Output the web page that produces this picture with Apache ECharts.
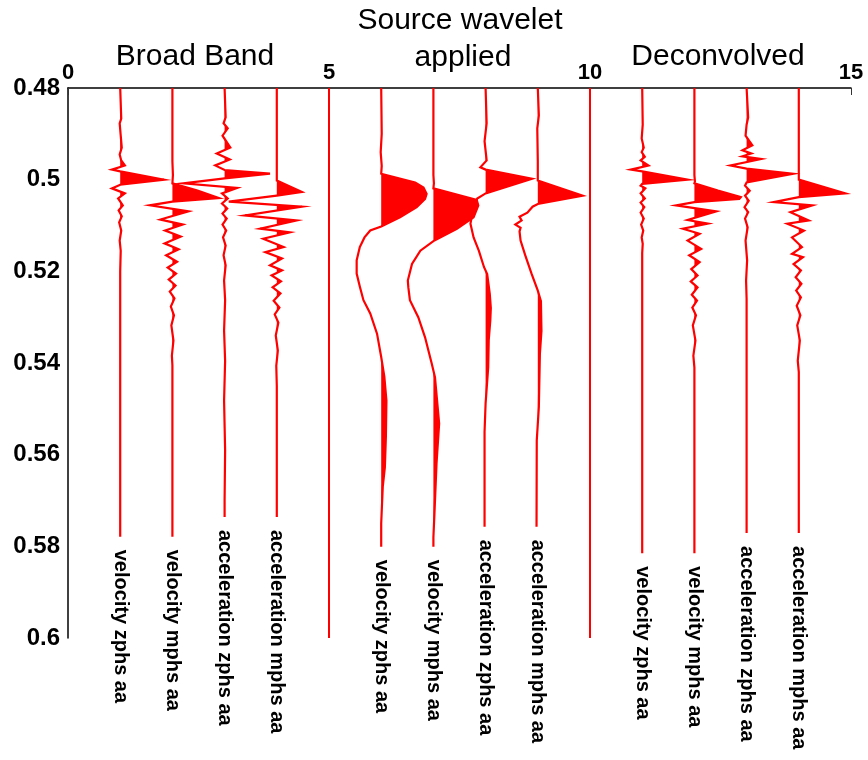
<!DOCTYPE html>
<html><head><meta charset="utf-8">
<script src="https://cdn.jsdelivr.net/npm/echarts@6/dist/echarts.min.js"></script>
<style>html,body{margin:0;padding:0;background:#fff}#c{width:868px;height:760px}</style>
</head><body><div id="c"></div>
<script>
// ---- data ----
const traceOffsets = [1, 2, 3, 4, 6, 7, 8, 9, 11, 12, 13, 14];
const traceNames = [
  'velocity zphs aa', 'velocity mphs aa', 'acceleration zphs aa', 'acceleration mphs aa',
  'velocity zphs aa', 'velocity mphs aa', 'acceleration zphs aa', 'acceleration mphs aa',
  'velocity zphs aa', 'velocity mphs aa', 'acceleration zphs aa', 'acceleration mphs aa'
];
const labelTimes = [0.5779, 0.5779, 0.5736, 0.5736, 0.5801, 0.5801, 0.5757, 0.5757, 0.5815, 0.5815, 0.5771, 0.5771];
const separators = [5, 10];
const sectionTitles = ['Broad Band', 'Source wavelet', 'applied', 'Deconvolved'];

// each trace: [time, amplitude]
const bbVelZphs = [[0.48,0],[0.4867,0.02],[0.4877,-0.01],[0.4904,0.01],[0.4930,0.03],[0.4945,-0.01],[0.4958,0.02],[0.4969,0.09],[0.4978,-0.16],[0.4982,0],[0.5000,0.84],[0.5011,0],[0.5019,-0.16],[0.5030,0.09],[0.5041,-0.04],[0.5056,0.05],[0.5067,-0.03],[0.5080,0.03],[0.5093,-0.02],[0.5111,0.02],[0.5133,-0.01],[0.5155,0.01],[0.5200,0],[0.6,0]];
const bbVelMphs = [[0.48,0],[0.4960,0],[0.4990,0.01],[0.5008,0],[0.5024,0.48],[0.5040,0.89],[0.5048,0],[0.5056,-0.43],[0.5069,0.31],[0.5087,-0.23],[0.5098,0.20],[0.5111,-0.14],[0.5124,0.16],[0.5139,-0.15],[0.5152,0.12],[0.5165,-0.12],[0.5179,0.09],[0.5192,-0.09],[0.5205,0.07],[0.5218,-0.07],[0.5231,0.06],[0.5244,-0.05],[0.5259,0.04],[0.5277,-0.03],[0.5296,0.03],[0.5318,-0.02],[0.5351,0.02],[0.5384,-0.01],[0.5405,0],[0.6,0]];
const bbAccZphs = [[0.48,0],[0.4864,0.02],[0.4877,-0.02],[0.4888,0.06],[0.4904,-0.04],[0.4930,0.11],[0.4943,-0.15],[0.4956,0.10],[0.4969,-0.18],[0.4979,0],[0.4987,0.87],[0.4997,0],[0.5008,-0.79],[0.5018,0.24],[0.5030,-0.05],[0.5041,0.06],[0.5052,-0.05],[0.5063,0.05],[0.5074,-0.04],[0.5085,0.04],[0.5098,-0.04],[0.5111,0.03],[0.5126,-0.03],[0.5144,0.02],[0.5165,-0.02],[0.5187,0.02],[0.5220,-0.01],[0.5263,0.01],[0.5329,-0.01],[0.5395,0.01],[0.5482,-0.01],[0.5590,0.01],[0.57,0],[0.6,0]];
const bbAccMphs = [[0.48,0],[0.4990,0],[0.5002,0],[0.5027,0.48],[0.5035,0],[0.5048,-0.92],[0.5059,0.48],[0.5078,-0.61],[0.5089,0.38],[0.5107,-0.32],[0.5115,0.25],[0.5129,-0.26],[0.5147,0.13],[0.5158,-0.22],[0.5172,0.10],[0.5187,-0.13],[0.5198,0.10],[0.5209,-0.10],[0.5222,0.08],[0.5235,-0.08],[0.5248,0.07],[0.5264,-0.06],[0.5279,0.05],[0.5294,-0.04],[0.5312,0.03],[0.5340,-0.02],[0.5373,0.02],[0.5406,-0.01],[0.5450,0],[0.6,0]];
const swVelZphs = [[0.48,0],[0.4900,0.01],[0.4940,-0.01],[0.4970,0.01],[0.4987,0],[0.5006,0.65],[0.5017,0.81],[0.5031,0.87],[0.5042,0.84],[0.5060,0.68],[0.5082,0.36],[0.5102,0],[0.5111,-0.21],[0.5126,-0.32],[0.5147,-0.41],[0.5176,-0.47],[0.5205,-0.47],[0.5233,-0.41],[0.5263,-0.34],[0.5292,-0.21],[0.5336,-0.08],[0.5387,0],[0.5430,0.06],[0.5482,0.10],[0.5560,0.09],[0.5628,0.07],[0.5670,0.03],[0.5750,0],[0.6,0]];
const swVelMphs = [[0.48,0],[0.4990,0],[0.5008,0.01],[0.5019,0],[0.5044,0.83],[0.5056,0.86],[0.5082,0.77],[0.5107,0.45],[0.5134,0],[0.5155,-0.25],[0.5184,-0.41],[0.5220,-0.49],[0.5235,-0.48],[0.5263,-0.45],[0.5300,-0.29],[0.5344,-0.16],[0.5402,-0.03],[0.5431,0.03],[0.5532,0.11],[0.5619,0.06],[0.5729,0.02],[0.5780,0],[0.6,0]];
const swAccZphs = [[0.48,0],[0.4877,0.02],[0.4916,-0.02],[0.4958,0.02],[0.4973,-0.10],[0.4978,0],[0.4998,0.89],[0.5030,0],[0.5041,-0.16],[0.5071,-0.25],[0.5096,-0.29],[0.5126,-0.23],[0.5155,-0.13],[0.5191,-0.03],[0.5206,0.03],[0.5249,0.08],[0.5280,0.10],[0.5307,0.09],[0.5350,0.06],[0.5409,0.05],[0.5488,0],[0.5550,-0.02],[0.6,-0.02]];
const swAccMphs = [[0.48,0],[0.4860,0.02],[0.4888,-0.01],[0.4960,0],[0.5002,0],[0.5035,0.86],[0.5053,0],[0.5059,-0.10],[0.5072,-0.20],[0.5081,-0.35],[0.5089,-0.31],[0.5098,-0.43],[0.5105,-0.33],[0.5113,-0.35],[0.5133,-0.33],[0.5165,-0.24],[0.5205,-0.12],[0.5242,0],[0.5265,0.06],[0.5330,0.07],[0.5380,0.04],[0.5496,0.02],[0.5569,-0.02],[0.6,-0.03]];
const dcVelZphs = [[0.48,0],[0.4880,0.01],[0.4910,-0.01],[0.4930,0.03],[0.4940,-0.01],[0.4950,0.05],[0.4958,-0.03],[0.4969,0.12],[0.4978,-0.22],[0.4982,0],[0.5000,0.87],[0.5009,0],[0.5013,-0.03],[0.5019,0.06],[0.5030,-0.03],[0.5041,0.05],[0.5050,-0.03],[0.5060,0.04],[0.5072,-0.03],[0.5085,0.03],[0.5098,-0.02],[0.5111,0.02],[0.5126,-0.01],[0.5140,0.01],[0.5160,0],[0.6,0]];
const dcVelMphs = [[0.48,0],[0.4990,0],[0.5004,0.01],[0.5008,0],[0.5024,0.45],[0.5038,0.89],[0.5042,0.86],[0.5049,0],[0.5056,-0.35],[0.5069,0.42],[0.5088,-0.13],[0.5096,0.26],[0.5107,-0.22],[0.5118,0.10],[0.5133,-0.13],[0.5151,0.13],[0.5165,-0.10],[0.5180,0.10],[0.5195,-0.06],[0.5209,0.06],[0.5222,-0.07],[0.5235,0.06],[0.5251,-0.05],[0.5264,0.05],[0.5279,-0.04],[0.5296,0.03],[0.5318,-0.03],[0.5351,0.02],[0.5384,-0.02],[0.5410,0],[0.6,0]];
const dcAccZphs = [[0.48,0],[0.4864,0.03],[0.4880,0],[0.4904,-0.02],[0.4925,0.11],[0.4936,-0.08],[0.4943,0.09],[0.4949,-0.08],[0.4955,0.28],[0.4969,-0.31],[0.4976,0],[0.4987,0.89],[0.5006,0],[0.5013,-0.03],[0.5024,0.06],[0.5035,-0.03],[0.5046,0.04],[0.5060,-0.04],[0.5071,0.03],[0.5085,-0.03],[0.5104,0.02],[0.5133,-0.02],[0.5176,0.01],[0.5220,-0.01],[0.5260,0],[0.6,0]];
const dcAccMphs = [[0.48,0],[0.4990,0],[0.5000,0],[0.5030,0.89],[0.5038,0],[0.5049,-0.48],[0.5056,0.26],[0.5071,-0.16],[0.5089,0.19],[0.5096,-0.22],[0.5111,0.10],[0.5126,-0.13],[0.5147,0.06],[0.5162,-0.13],[0.5169,0.08],[0.5184,-0.10],[0.5198,0.04],[0.5213,-0.06],[0.5227,0.05],[0.5242,-0.05],[0.5257,0.04],[0.5275,-0.04],[0.5296,0.03],[0.5318,-0.03],[0.5351,0.02],[0.5395,-0.02],[0.5420,0],[0.6,0]];

const traces = [bbVelZphs, bbVelMphs, bbAccZphs, bbAccMphs, swVelZphs, swVelMphs, swAccZphs, swAccMphs, dcVelZphs, dcVelMphs, dcAccZphs, dcAccMphs];

// ---- chart ----
const RED = '#ff0000';
const FONT = 'Arial, "Liberation Sans", sans-serif';
const chart = echarts.init(document.getElementById('c'), null, {renderer: 'canvas'});

function traceSeries(trace, offset) {
  return {
    type: 'custom',
    coordinateSystem: 'cartesian2d',
    silent: true,
    z: 3,
    clip: false,
    encode: {x: 0, y: 1},
    data: [[offset, trace[0][0]]],
    renderItem: function (params, api) {
      const line = trace.map(d => api.coord([offset + d[1], d[0]]));
      const poly = [api.coord([offset, trace[0][0]])];
      for (let i = 0; i < trace.length; i++) {
        const t = trace[i][0], a = trace[i][1];
        if (i > 0) {
          const t0 = trace[i - 1][0], a0 = trace[i - 1][1];
          if ((a0 > 0 && a < 0) || (a0 < 0 && a > 0)) {
            const tc = t0 + (t - t0) * (0 - a0) / (a - a0);
            poly.push(api.coord([offset, tc]));
          }
        }
        poly.push(api.coord([offset + Math.max(a, 0), t]));
      }
      poly.push(api.coord([offset, trace[trace.length - 1][0]]));
      return {
        type: 'group',
        children: [
          {type: 'polygon', shape: {points: poly}, style: {fill: RED, stroke: null}},
          {type: 'polyline', shape: {points: line}, style: {stroke: RED, lineWidth: 2.2, fill: null}}
        ]
      };
    }
  };
}

const series = traces.map((tr, i) => traceSeries(tr, traceOffsets[i]));

separators.forEach(x => {
  series.push({
    type: 'line', silent: true, z: 3, symbol: 'none',
    data: [[x, 0.48], [x, 0.6]],
    lineStyle: {color: RED, width: 2}
  });
});

// trace name labels (rotated, on white boxes)
series.push({
  type: 'custom', coordinateSystem: 'cartesian2d', silent: true, z: 10, clip: false,
  encode: {x: 0, y: 1},
  data: traceOffsets.map((x, i) => [x, labelTimes[i], i]),
  renderItem: function (params, api) {
    const p = api.coord([api.value(0), api.value(1)]);
    const i = api.value(2);
    return {
      type: 'text', x: p[0], y: p[1], rotation: -Math.PI / 2,
      style: {
        text: traceNames[i], fill: '#000', fontSize: 20, fontWeight: 'bold', fontFamily: FONT,
        align: 'left', verticalAlign: 'middle',
        backgroundColor: '#fff', padding: [9, 4, 9, 13]
      }
    };
  }
});

const titleStyle = {fontSize: 30, fontFamily: FONT, fill: '#000', align: 'center', verticalAlign: 'middle'};
chart.setOption({
  animation: false,
  backgroundColor: '#fff',
  grid: {left: 68, top: 88, right: 17, bottom: 122, containLabel: false},
  xAxis: {
    type: 'value', position: 'top', min: 0, max: 15, interval: 5,
    axisLine: {show: true, onZero: false, lineStyle: {color: '#000', width: 1.5}},
    axisTick: {show: true, inside: true, length: 7, lineStyle: {color: '#333'}},
    splitLine: {show: false},
    axisLabel: {color: '#000', fontSize: 22, fontWeight: 'bold', fontFamily: FONT, margin: 4}
  },
  yAxis: {
    type: 'value', inverse: true, min: 0.48, max: 0.6, interval: 0.02,
    axisLine: {show: true, onZero: false, lineStyle: {color: '#000', width: 1.5}},
    axisTick: {show: false},
    splitLine: {show: false},
    axisLabel: {color: '#000', fontSize: 24, fontWeight: 'bold', fontFamily: FONT, margin: 8}
  },
  graphic: [
    {type: 'text', x: 195, y: 57, style: Object.assign({text: sectionTitles[0]}, titleStyle)},
    {type: 'text', x: 460, y: 21, style: Object.assign({text: sectionTitles[1]}, titleStyle)},
    {type: 'text', x: 463, y: 58, style: Object.assign({text: sectionTitles[2]}, titleStyle)},
    {type: 'text', x: 718, y: 57, style: Object.assign({text: sectionTitles[3]}, titleStyle)}
  ],
  series: series
});
</script>
</body></html>
